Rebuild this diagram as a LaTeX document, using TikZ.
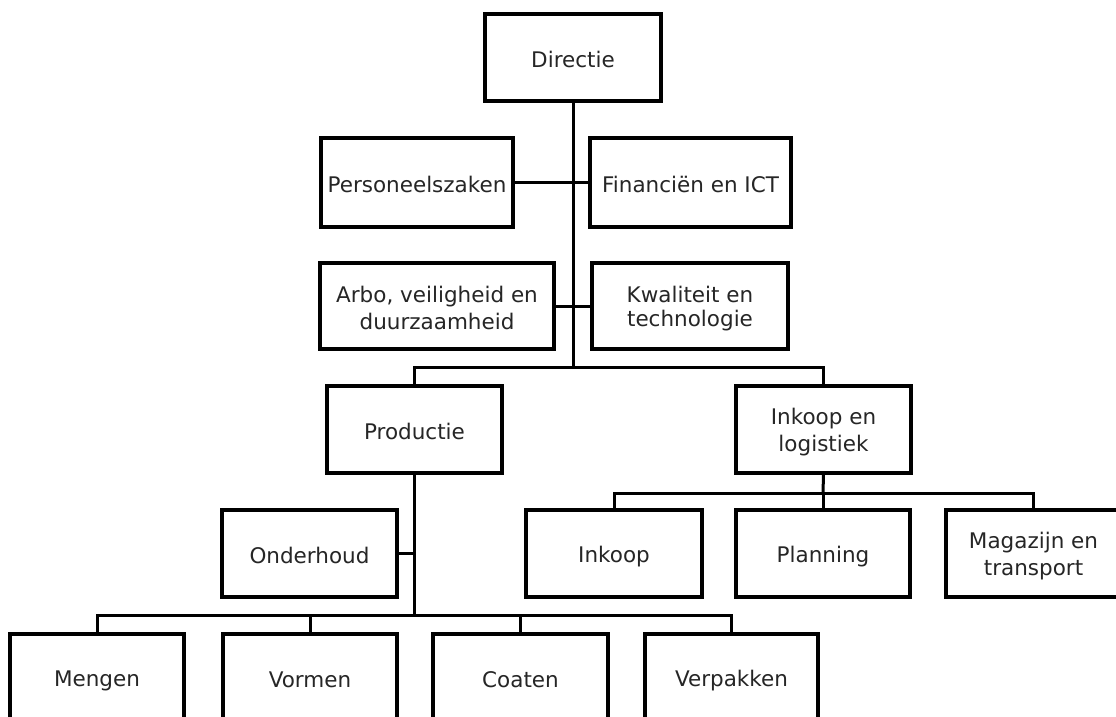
\documentclass[tikz,border=0pt]{standalone}
\usepackage{fontspec}
\setmainfont{DejaVu Sans}
\newcommand\bxs{\rule[-2pt]{0pt}{23.6pt}}
\begin{document}
\begin{tikzpicture}[x=1pt,y=-1pt,
  box/.style={draw=black, line width=3.2pt, fill=white, inner sep=0pt, align=center,
    font=\fontsize{21.5}{24}\selectfont, text=black!85,
    minimum width=175pt, minimum height=87pt},
  conn/.style={line width=3pt}]
\clip (0,0) rectangle (1116,717);
\fill[white] (0,0) rectangle (1116,717);
\coordinate (b1) at (573,367);
\coordinate (b2) at (415,615);
\coordinate (b3) at (823,493);
% nodes
\node[box, minimum width=176pt] (dir) at (573,57.5) {\bxs Directie};
\node[box, minimum width=192pt, minimum height=89pt] (pz) at (417,182.5) {\bxs Personeelszaken};
\node[box, minimum width=201pt, minimum height=89pt] (fin) at (690.5,182.5) {\bxs Financiën en ICT};
\node[box, minimum width=234pt, minimum height=86pt] (arbo) at (437,306) {\bxs Arbo, veiligheid en\\duurzaamheid\bxs};
\node[box, minimum width=196pt, minimum height=86pt] (kwal) at (690,306) {\bxs Kwaliteit en\\technologie\bxs};
\node[box] (prod) at (414.5,429.5) {\bxs Productie};
\node[box] (inl) at (823.5,429.5) {\bxs Inkoop en\\logistiek\bxs};
\node[box] (ond) at (309.5,553.5) {\bxs Onderhoud};
\node[box, minimum width=176pt] (ink) at (614,553.5) {\bxs Inkoop};
\node[box, minimum width=174pt] (plan) at (823,553.5) {\bxs Planning};
\node[box] (mag) at (1033.5,553.5) {\bxs Magazijn en\\transport\bxs};
\node[box, minimum width=174pt] (meng) at (97,677.5) {\bxs Mengen};
\node[box, minimum width=174pt] (vorm) at (310,677.5) {\bxs Vormen};
\node[box] (coat) at (520.5,677.5) {\bxs Coaten};
\node[box, minimum width=173pt] (verp) at (731.5,677.5) {\bxs Verpakken};
% connectors
\draw[conn] (dir.south) -- (b1);
\draw[conn] (pz.east) -- (fin.west);
\draw[conn] (arbo.east) -- (kwal.west);
\draw[conn] (prod.north) |- (b1) -| (inl.north);
\draw[conn] (prod.south) -- (prod.south |- b2);
\draw[conn] (ond.east) -- (ond.east -| b2);
\draw[conn] (meng.north) |- (b2) -| (verp.north);
\draw[conn] (vorm.north) -- (vorm.north |- b2);
\draw[conn] (coat.north) -- (coat.north |- b2);
\draw[conn] (inl.south) -- (b3);
\draw[conn] (ink.north) |- (b3) -| (mag.north);
\draw[conn] (plan.north) -- (plan.north |- b3);
\end{tikzpicture}
\end{document}
